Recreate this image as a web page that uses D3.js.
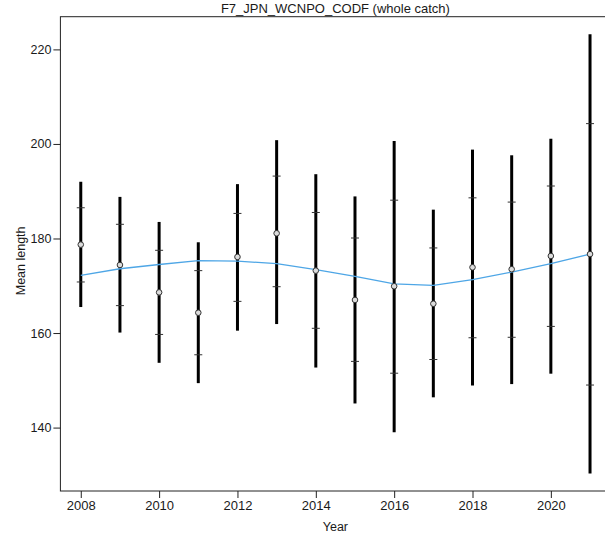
<!DOCTYPE html>
<html>
<head>
<meta charset="utf-8">
<script src="https://cdn.jsdelivr.net/npm/d3@7"></script>
<style>
  html, body { margin: 0; padding: 0; background: #fff; }
  text { font-family: "Liberation Sans", Arial, sans-serif; fill: #1a1a1a; }
</style>
</head>
<body>
<svg id="chart" width="605" height="539"></svg>
<script>
// Mean length by year, with intervals (outer bar ends and inner ticks) and a fitted trend
const years      = [2008, 2009, 2010, 2011, 2012, 2013, 2014, 2015, 2016, 2017, 2018, 2019, 2020, 2021];
const meanLength = [178.7, 174.4, 168.6, 164.3, 176.1, 181.1, 173.2, 167.0, 169.9, 166.2, 173.9, 173.5, 176.3, 176.7];
const outerUpper = [192.0, 188.8, 183.5, 179.2, 191.5, 200.8, 193.6, 188.9, 200.6, 186.1, 198.8, 197.6, 201.1, 223.2];
const outerLower = [165.5, 160.1, 153.7, 149.4, 160.5, 161.9, 152.7, 145.1, 139.0, 146.4, 148.9, 149.2, 151.4, 130.3];
const innerUpper = [186.5, 183.0, 177.5, 173.2, 185.3, 193.2, 185.5, 180.1, 188.1, 178.0, 188.6, 187.7, 191.1, 204.3];
const innerLower = [170.8, 165.8, 159.7, 155.4, 166.7, 169.8, 161.0, 154.0, 151.5, 154.4, 159.0, 159.1, 161.4, 149.0];
const trend      = [172.2, 173.6, 174.5, 175.3, 175.2, 174.7, 173.4, 172.0, 170.4, 170.1, 171.3, 172.9, 174.7, 176.7];
const xTicks = [2008, 2010, 2012, 2014, 2016, 2018, 2020];
const yTicks = [140, 160, 180, 200, 220];
const title = "F7_JPN_WCNPO_CODF (whole catch)";

const rows = years.map((yr, i) => ({
  year: yr, mean: meanLength[i], hi: outerUpper[i], lo: outerLower[i],
  qHi: innerUpper[i], qLo: innerLower[i], fit: trend[i]
}));

const svg = d3.select("#chart");
const plot = { left: 60.4, right: 610.4, top: 16.7, bottom: 491 };

// axis ranges padded by 4% on each side
function padded(lo, hi) { const p = (hi - lo) * 0.04; return [lo - p, hi + p]; }
const xDom = padded(d3.min(years), d3.max(years));
const yDom = padded(d3.min(outerLower), d3.max(outerUpper));

const x = d3.scaleLinear().domain(xDom).range([plot.left, plot.right]);
const y = d3.scaleLinear().domain(yDom).range([plot.bottom, plot.top]);

// plot frame
svg.append("rect")
  .attr("x", plot.left).attr("y", plot.top)
  .attr("width", plot.right - plot.left).attr("height", plot.bottom - plot.top)
  .attr("fill", "none").attr("stroke", "#222").attr("stroke-width", 1);

// axes
const yAxis = svg.append("g")
  .attr("transform", `translate(${plot.left},0)`)
  .call(d3.axisLeft(y).tickValues(yTicks).tickSize(7).tickPadding(2).tickFormat(d3.format("d")));
const xAxis = svg.append("g")
  .attr("transform", `translate(0,${plot.bottom})`)
  .call(d3.axisBottom(x).tickValues(xTicks).tickSize(7).tickPadding(3).tickFormat(d3.format("d")));
[yAxis, xAxis].forEach(g => {
  g.select(".domain").remove();
  g.selectAll(".tick line").attr("stroke", "#222");
  g.selectAll(".tick text").attr("font-family", "Liberation Sans, Arial, sans-serif").attr("fill", "#1a1a1a");
});
yAxis.selectAll(".tick text").attr("font-size", 12.5);
xAxis.selectAll(".tick text").attr("font-size", 13);

// outer interval bars
svg.append("g").selectAll("line").data(rows).join("line")
  .attr("x1", d => x(d.year)).attr("x2", d => x(d.year))
  .attr("y1", d => y(d.hi)).attr("y2", d => y(d.lo))
  .attr("stroke", "#000").attr("stroke-width", 3);

// inner ticks
const tickHalf = 4;
const ticks = svg.append("g");
ticks.selectAll("line.hi").data(rows).join("line").attr("class", "hi")
  .attr("x1", d => x(d.year) - tickHalf).attr("x2", d => x(d.year) + tickHalf)
  .attr("y1", d => y(d.qHi)).attr("y2", d => y(d.qHi))
  .attr("stroke", "#333").attr("stroke-width", 1);
ticks.selectAll("line.lo").data(rows).join("line").attr("class", "lo")
  .attr("x1", d => x(d.year) - tickHalf).attr("x2", d => x(d.year) + tickHalf)
  .attr("y1", d => y(d.qLo)).attr("y2", d => y(d.qLo))
  .attr("stroke", "#333").attr("stroke-width", 1);

// fitted trend line
svg.append("path").datum(rows)
  .attr("d", d3.line().x(d => x(d.year)).y(d => y(d.fit)))
  .attr("fill", "none").attr("stroke", "#4ea6e6").attr("stroke-width", 1.3);

// mean points
svg.append("g").selectAll("circle").data(rows).join("circle")
  .attr("cx", d => x(d.year)).attr("cy", d => y(d.mean)).attr("r", 2.8)
  .attr("fill", "#dcdcdc").attr("stroke", "#333").attr("stroke-width", 1);

// titles
svg.append("text")
  .attr("x", (plot.left + plot.right) / 2).attr("y", 13)
  .attr("text-anchor", "middle").attr("font-size", 13)
  .text(title);
svg.append("text")
  .attr("x", (plot.left + plot.right) / 2).attr("y", 531)
  .attr("text-anchor", "middle").attr("font-size", 12.5)
  .text("Year");
svg.append("text")
  .attr("transform", `translate(25,${(plot.top + plot.bottom) / 2 + 7}) rotate(-90)`)
  .attr("text-anchor", "middle").attr("font-size", 12.5)
  .text("Mean length");
</script>
</body>
</html>
